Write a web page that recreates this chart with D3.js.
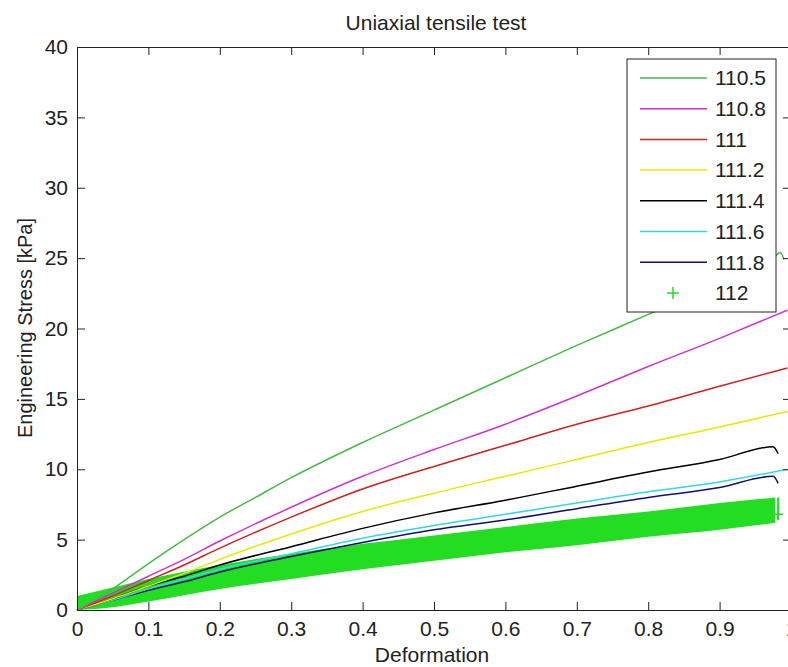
<!DOCTYPE html>
<html>
<head>
<meta charset="utf-8">
<script src="https://cdn.jsdelivr.net/npm/d3@7"></script>
<style>
  body { margin: 0; background: #fff; }
  svg { display: block; font-family: "Liberation Sans", Arial, sans-serif; }
  .axis path, .axis line { stroke: #222; }
  .axis text { fill: #222; font-size: 21px; }
</style>
</head>
<body>
<svg width="788" height="667"></svg>
<script>
// curves: [deformation, stress kPa]
const s1105 = [[0,0],[0.05,1.5],[0.1,3.3],[0.15,5.0],[0.2,6.6],[0.25,8.0],[0.3,9.4],[0.4,11.9],[0.5,14.2],[0.6,16.5],[0.7,18.8],[0.8,21.0],[0.9,23.2],[0.975,25.0],[0.985,25.4],[0.99,24.9]];
const s1108 = [[0,0],[0.05,1.2],[0.1,2.4],[0.15,3.6],[0.2,4.9],[0.3,7.3],[0.4,9.5],[0.5,11.4],[0.6,13.2],[0.7,15.2],[0.8,17.3],[0.9,19.3],[0.995,21.3]];
const s111 = [[0,0],[0.05,1.0],[0.1,2.1],[0.15,3.2],[0.2,4.4],[0.3,6.6],[0.4,8.6],[0.5,10.2],[0.6,11.7],[0.7,13.2],[0.8,14.5],[0.9,15.9],[0.995,17.2]];
const s1112 = [[0,0],[0.05,0.8],[0.1,1.7],[0.15,2.6],[0.2,3.6],[0.3,5.4],[0.4,7.0],[0.5,8.3],[0.6,9.5],[0.7,10.7],[0.8,11.9],[0.9,13.0],[0.995,14.1]];
const s1114 = [[0,0],[0.05,0.8],[0.1,1.7],[0.15,2.4],[0.2,3.2],[0.3,4.5],[0.4,5.8],[0.5,6.9],[0.6,7.8],[0.7,8.8],[0.8,9.8],[0.9,10.7],[0.975,11.6],[0.982,11.1]];
const s1116 = [[0,0],[0.05,0.7],[0.1,1.5],[0.15,2.2],[0.2,2.9],[0.3,4.0],[0.4,5.1],[0.5,6.0],[0.6,6.8],[0.7,7.6],[0.8,8.4],[0.9,9.1],[0.995,10.0]];
const s1118 = [[0,0],[0.05,0.7],[0.1,1.4],[0.15,2.0],[0.2,2.7],[0.3,3.8],[0.4,4.8],[0.5,5.7],[0.6,6.4],[0.7,7.2],[0.8,8.0],[0.9,8.7],[0.975,9.5],[0.982,9.0]];

// 112 is a dense cloud of + markers: upper and lower edge of the cloud
const band112X = [0, 0.05, 0.1, 0.2, 0.3, 0.4, 0.5, 0.6, 0.7, 0.8, 0.9, 0.978];
const band112Top = [1.0, 1.6, 2.2, 3.2, 4.0, 4.7, 5.3, 5.9, 6.5, 7.0, 7.6, 8.0];
const band112Low = [0, 0.2, 0.6, 1.5, 2.2, 2.9, 3.5, 4.1, 4.6, 5.2, 5.7, 6.2];
const end112 = [[0.982, 8.0], [0.982, 6.4], [0.982, 6.8]];

const labels = ["110.5", "110.8", "111", "111.2", "111.4", "111.6", "111.8", "112"];
const colors = ["#44bb44", "#cc33cc", "#cc2222", "#e8e800", "#000000", "#33d8e0", "#101070", "#22dd22"];
const curves = [s1105, s1108, s111, s1112, s1114, s1116, s1118];

const xTicks = [0, 0.1, 0.2, 0.3, 0.4, 0.5, 0.6, 0.7, 0.8, 0.9, 1];
const yTicks = [0, 5, 10, 15, 20, 25, 30, 35, 40];

const svg = d3.select("svg"),
  pLeft = 77, pTop = 47, pRight = 791, pBottom = 610;

const x = d3.scaleLinear().domain([0, 1]).range([pLeft, pRight]),
  y = d3.scaleLinear().domain([0, 40]).range([pBottom, pTop]);

// 112 cloud
const band = band112X.map((d, i) => ({ x: d, hi: band112Top[i], lo: band112Low[i] }));
svg.append("path")
  .datum(band)
  .attr("fill", colors[7])
  .attr("d", d3.area().x(d => x(d.x)).y0(d => y(d.lo)).y1(d => y(d.hi)).curve(d3.curveMonotoneX));
svg.append("path")
  .datum(end112.slice(0, 2))
  .attr("fill", "none")
  .attr("stroke", colors[7])
  .attr("stroke-width", 2)
  .attr("d", d3.line().x(d => x(d[0])).y(d => y(d[1])));
svg.append("path")
  .attr("transform", `translate(${x(end112[2][0])},${y(end112[2][1])})`)
  .attr("stroke", colors[7])
  .attr("stroke-width", 1.5)
  .attr("d", "M-5,0H5M0,-5V5");

const line = d3.line().x(d => x(d[0])).y(d => y(d[1])).curve(d3.curveMonotoneX);
svg.append("g")
  .selectAll("path")
  .data(curves.slice().reverse())
  .enter()
  .append("path")
  .attr("fill", "none")
  .attr("stroke", (d) => colors[curves.indexOf(d)])
  .attr("stroke-width", 1.5)
  .attr("d", line);

// axes, MATLAB style box with inner ticks
svg.append("g")
  .attr("class", "axis")
  .attr("transform", `translate(0,${pBottom})`)
  .call(d3.axisBottom(x).tickValues(xTicks).tickFormat(d3.format("")).tickSize(-8).tickSizeOuter(0).tickPadding(11));
svg.append("g")
  .attr("class", "axis")
  .attr("transform", `translate(0,${pTop})`)
  .call(d3.axisTop(x).tickValues(xTicks).tickFormat("").tickSize(-8).tickSizeOuter(0));
svg.append("g")
  .attr("class", "axis")
  .attr("transform", `translate(${pLeft},0)`)
  .call(d3.axisLeft(y).tickValues(yTicks).tickSize(-8).tickSizeOuter(0).tickPadding(9));
svg.append("g")
  .attr("class", "axis")
  .attr("transform", `translate(${pRight},0)`)
  .call(d3.axisRight(y).tickValues(yTicks).tickFormat("").tickSize(-8).tickSizeOuter(0));

svg.append("text")
  .attr("x", 436).attr("y", 30)
  .attr("text-anchor", "middle")
  .attr("font-size", 21).attr("fill", "#222")
  .text("Uniaxial tensile test");
svg.append("text")
  .attr("x", 432).attr("y", 662)
  .attr("text-anchor", "middle")
  .attr("font-size", 21).attr("fill", "#222")
  .text("Deformation");
svg.append("text")
  .attr("transform", "translate(32,328) rotate(-90)")
  .attr("text-anchor", "middle")
  .attr("font-size", 20).attr("fill", "#222")
  .text("Engineering Stress [kPa]");

// legend
const lg = svg.append("g");
lg.append("rect")
  .attr("x", 627).attr("y", 59).attr("width", 149).attr("height", 253)
  .attr("fill", "#fff").attr("stroke", "#222");
const item = lg.selectAll("g.item")
  .data(labels)
  .enter()
  .append("g")
  .attr("class", "item")
  .attr("transform", (d, i) => `translate(0,${78 + i * 30.7})`);
item.filter((d, i) => i < 7)
  .append("line")
  .attr("x1", 640).attr("x2", 707)
  .attr("stroke", (d, i) => colors[i])
  .attr("stroke-width", 1.5);
item.filter((d, i) => i === 7)
  .append("path")
  .attr("transform", "translate(673,0)")
  .attr("stroke", colors[7])
  .attr("stroke-width", 1.5)
  .attr("d", "M-6,0H6M0,-6V6");
item.append("text")
  .attr("x", 715).attr("dy", "0.35em")
  .attr("font-size", 21).attr("fill", "#222")
  .text((d) => d);
</script>
</body>
</html>
